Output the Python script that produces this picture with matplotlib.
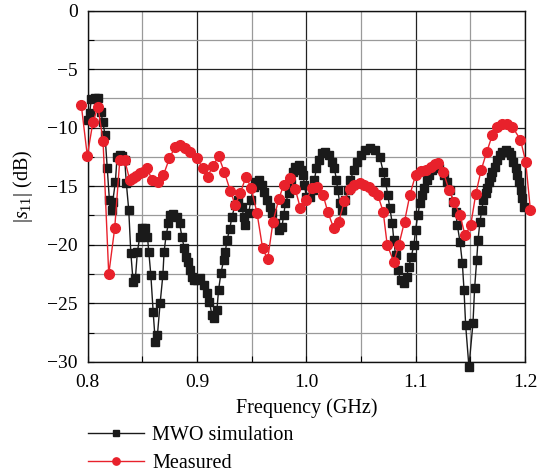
import matplotlib
matplotlib.use('Agg')
import matplotlib.pyplot as plt
from matplotlib.ticker import MultipleLocator

plt.rcParams['font.family'] = ['Liberation Serif', 'DejaVu Serif']
plt.rcParams['mathtext.fontset'] = 'custom'
plt.rcParams['mathtext.rm'] = 'Liberation Serif'
plt.rcParams['mathtext.it'] = 'Liberation Serif:italic'

# MWO simulation (GHz, dB)
sim_f = [0.800, 0.802, 0.8035, 0.8066, 0.810, 0.812, 0.814, 0.816, 0.818, 0.820,
         0.822, 0.823, 0.8255, 0.827, 0.8295, 0.8316, 0.834, 0.8355, 0.8377, 0.8396,
         0.8417, 0.8438, 0.8456, 0.8478, 0.850, 0.8524, 0.8548, 0.856, 0.8579, 0.860,
         0.862, 0.8639, 0.8664, 0.8689, 0.870, 0.8719, 0.874, 0.8755, 0.8786, 0.8817,
         0.8841, 0.8863, 0.8884, 0.890, 0.8918, 0.8939, 0.8954, 0.8975, 0.900, 0.903,
         0.9067, 0.9092, 0.9115, 0.9137, 0.9158, 0.9183, 0.9198, 0.922, 0.9244, 0.926,
         0.9275, 0.930, 0.932, 0.935, 0.938, 0.9412, 0.9427, 0.9442, 0.9473, 0.9494,
         0.9518, 0.9534, 0.9564, 0.9595, 0.9616, 0.9641, 0.9665, 0.9687, 0.9717, 0.9747,
         0.9778, 0.9793, 0.9809, 0.9839, 0.9861, 0.9879, 0.990, 0.993, 0.9952, 0.9971,
         0.9983, 1.000, 1.0037, 1.0062, 1.0074, 1.0093, 1.0114, 1.0145, 1.0175, 1.0205,
         1.0236, 1.0257, 1.0276, 1.0288, 1.0306, 1.0328, 1.0358, 1.0379, 1.0404, 1.0434,
         1.0465, 1.0502, 1.0541, 1.0587, 1.0632, 1.0672, 1.0703, 1.0724, 1.0745, 1.0764,
         1.0786, 1.080, 1.0816, 1.0837, 1.0862, 1.0892, 1.0917, 1.0938, 1.096, 1.0984,
         1.0999, 1.102, 1.1038, 1.106, 1.1075, 1.110, 1.1121, 1.1152, 1.1182, 1.1212,
         1.1258, 1.1289, 1.1313, 1.1344, 1.1365, 1.1381, 1.1405, 1.1427, 1.1442, 1.1457,
         1.1487, 1.1524, 1.1539, 1.1558, 1.157, 1.1588, 1.1604, 1.1619, 1.164, 1.1656,
         1.167, 1.1686, 1.1701, 1.1723, 1.1747, 1.1771, 1.1793, 1.1823, 1.1853, 1.1869,
         1.1894, 1.1915, 1.193, 1.1945, 1.1961, 1.1976, 1.1991]
sim_db = [-9.35, -8.75, -7.56, -7.5, -7.5, -8.64, -9.5, -10.63, -13.45, -16.18,
          -17.04, -16.33, -14.62, -12.49, -12.34, -12.4, -12.77, -14.76, -17.04, -20.71,
          -23.16, -22.84, -20.6, -19.32, -18.57, -18.57, -19.32, -20.6, -22.59, -25.72,
          -28.35, -27.71, -24.98, -22.59, -20.6, -19.17, -18.15, -17.46, -17.38, -17.61,
          -18.15, -19.32, -20.31, -21.02, -21.45, -22.16, -22.73, -23.01, -23.01, -22.87,
          -23.44, -24.15, -24.87, -26.0, -26.26, -25.58, -23.87, -22.42, -21.3, -20.6,
          -19.6, -18.69, -17.61, -16.61, -16.18, -16.76, -17.61, -18.32, -17.29, -16.18,
          -15.05, -14.62, -14.47, -14.9, -15.47, -16.18, -16.76, -17.29, -18.17, -18.74,
          -18.46, -17.46, -16.46, -15.61, -14.76, -13.77, -13.34, -13.19, -13.62, -14.05,
          -14.9, -15.9, -15.9, -15.33, -14.47, -13.48, -12.77, -12.19, -12.06, -12.34,
          -12.91, -13.48, -14.47, -15.33, -16.46, -17.04, -16.18, -15.33, -14.47, -13.62,
          -12.91, -12.34, -11.91, -11.77, -11.91, -12.49, -13.77, -14.62, -15.76, -16.87,
          -18.17, -19.6, -20.88, -22.16, -23.01, -23.3, -22.73, -21.88, -21.02, -20.03,
          -18.74, -17.46, -16.46, -15.76, -15.18, -14.47, -14.05, -13.62, -13.34, -13.48,
          -14.05, -14.62, -15.33, -16.33, -17.18, -18.32, -19.74, -21.59, -23.87, -26.86,
          -30.42, -26.71, -23.72, -21.3, -19.6, -18.03, -17.04, -16.18, -15.61, -15.18,
          -14.62, -14.19, -13.77, -13.34, -12.77, -12.34, -12.06, -11.91, -12.06, -12.34,
          -12.91, -13.48, -14.05, -14.62, -15.33, -16.04, -16.76]

# Measured (GHz, dB)
meas_f = [0.7943, 0.7998, 0.805, 0.8096, 0.8142, 0.8194, 0.8249, 0.8295, 0.834, 0.8386,
          0.8417, 0.8447, 0.8478, 0.8508, 0.8548, 0.8588, 0.8648, 0.8694, 0.8749, 0.8801,
          0.8847, 0.8893, 0.8939, 0.900, 0.9055, 0.9097, 0.9146, 0.9198, 0.925, 0.9305,
          0.935, 0.9396, 0.9449, 0.9497, 0.955, 0.9601, 0.9647, 0.9696, 0.9748, 0.9793,
          0.9848, 0.990, 0.9946, 1.000, 1.0053, 1.0099, 1.0154, 1.0196, 1.0251, 1.0297,
          1.0349, 1.0398, 1.044, 1.0489, 1.0532, 1.0572, 1.0612, 1.0654, 1.0703, 1.074,
          1.080, 1.0846, 1.0898, 1.0947, 1.0999, 1.1045, 1.1091, 1.1136, 1.1173, 1.1203,
          1.1253, 1.1304, 1.135, 1.1405, 1.1452, 1.1503, 1.1549, 1.1598, 1.1649, 1.1701,
          1.1747, 1.1793, 1.1839, 1.1885, 1.1958, 1.2006, 1.2049]
meas_db = [-8.07, -12.4, -9.5, -8.21, -11.14, -22.53, -18.55, -12.77, -12.77, -14.47,
           -14.28, -14.11, -13.9, -13.77, -13.48, -14.47, -14.62, -14.05, -12.62, -11.63,
           -11.49, -11.77, -12.06, -12.62, -13.48, -14.19, -13.28, -12.43, -13.77, -15.39,
           -16.61, -15.61, -14.19, -15.18, -17.32, -20.31, -21.25, -18.03, -16.12, -14.9,
           -14.33, -15.27, -16.89, -16.18, -15.18, -15.1, -15.76, -17.18, -18.6, -18.03,
           -16.24, -15.27, -14.9, -14.76, -14.9, -15.1, -15.39, -15.76, -17.18, -20.03,
           -21.45, -20.03, -18.03, -15.76, -14.05, -13.68, -13.62, -13.34, -13.11, -13.0,
           -13.77, -15.33, -16.33, -17.46, -19.2, -18.35, -15.7, -13.65, -12.1, -10.63,
           -9.95, -9.69, -9.69, -9.95, -11.03, -12.91, -17.04]

fig = plt.figure(figsize=(5.48, 4.76), dpi=100)
ax = fig.add_axes([0.1597, 0.2399, 0.7984, 0.7380])

ax.plot(sim_f, sim_db, color='#1a1a1a', lw=1.0, marker='s', ms=5.7,
        mec='#1a1a1a', mfc='#1a1a1a', label='MWO simulation', clip_on=False, zorder=3)
ax.plot(meas_f, meas_db, color='#e8212b', lw=1.0, marker='o', ms=7,
        mec='#e8212b', mfc='#e8212b', label='Measured', clip_on=False, zorder=4)

ax.set_xlim(0.8, 1.2)
ax.set_ylim(-30, 0)
ax.xaxis.set_minor_locator(MultipleLocator(0.05))
ax.yaxis.set_minor_locator(MultipleLocator(2.5))
ax.set_xticks([0.8, 0.9, 1.0, 1.1, 1.2])
ax.set_xticklabels(['0.8', '0.9', '1.0', '1.1', '1.2'])
ax.set_yticks([0, -5, -10, -15, -20, -25, -30])
ax.set_yticklabels(['0', '\u22125', '\u221210', '\u221215', '\u221220', '\u221225', '\u221230'])

ax.grid(which='major', color='#222222', lw=0.9, zorder=0)
ax.grid(which='minor', color='#9a9a9a', lw=0.9, zorder=0)
ax.set_axisbelow(True)
ax.tick_params(which='both', direction='in', labelsize=14, length=4, width=0.8)
ax.tick_params(axis='x', pad=9)
ax.tick_params(axis='y', pad=7)
for s in ax.spines.values():
    s.set_linewidth(1.0)
    s.set_color('#111111')

ax.set_xlabel('Frequency (GHz)', fontsize=14.5, labelpad=5)
ax.set_ylabel(r'$|s_{11}|$ (dB)', fontsize=14.5, labelpad=9)

handles, labels = ax.get_legend_handles_labels()
leg = fig.legend(handles, labels, loc='upper left', bbox_to_anchor=(0.145, 0.122),
                 frameon=False, fontsize=14.5, handlelength=2.8, handletextpad=0.4,
                 labelspacing=0.45, markerscale=0.75, borderaxespad=0)

fig.savefig('out.png', dpi=100)
